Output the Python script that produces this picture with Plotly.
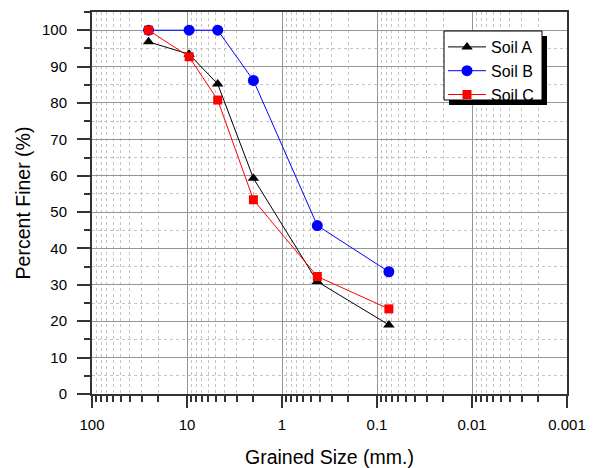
import plotly.graph_objects as go

sizes = [25.4, 9.5, 4.75, 2.0, 0.425, 0.075]
soil_a = [96.8, 93.4, 85.2, 59.3, 30.9, 19.0]
soil_b = [100.0, 100.0, 100.0, 86.2, 46.3, 33.6]
soil_c = [100.0, 92.7, 80.8, 53.4, 32.3, 23.4]

x_tickvals = [100, 10, 1, 0.1, 0.01, 0.001]
x_ticktext = ["100", "10", "1", "0.1", "0.01", "0.001"]
y_tickvals = list(range(0, 101, 10))

FONT = "Arial, Liberation Sans, sans-serif"
W, H = 594, 468
ML, MR, MT, MB = 92, 27, 12, 74

fig = go.Figure()
fig.add_trace(go.Scatter(x=sizes, y=soil_a, name="Soil A", mode="lines+markers",
                         line=dict(color="black", width=1),
                         marker=dict(symbol="triangle-up", size=10, color="black")))
fig.add_trace(go.Scatter(x=sizes, y=soil_b, name="Soil B", mode="lines+markers",
                         line=dict(color="blue", width=1),
                         marker=dict(symbol="circle", size=11, color="blue")))
fig.add_trace(go.Scatter(x=sizes, y=soil_c, name="Soil C", mode="lines+markers",
                         line=dict(color="red", width=1),
                         marker=dict(symbol="square", size=9, color="red")))

pw = W - ML - MR
ph = H - MT - MB
def px2paper(x, y):
    return (x - ML) / pw, (H - MB - y) / ph

def prect(x0p, y0p, x1p, y1p, fill, lw):
    a, b = px2paper(x0p, y1p)
    c, d = px2paper(x1p, y0p)
    return dict(type="rect", xref="paper", yref="paper", x0=a, x1=c, y0=b, y1=d,
                fillcolor=fill, line=dict(color="#000000", width=lw), layer="above")

# legend frame: black drop shadow, then white box with a thin black border
fig.update_layout(shapes=[
    prect(449, 36, 547, 105, "#000000", 0),
    prect(444, 31, 542, 100, "#ffffff", 1),
])

lx, ly = px2paper(443, 30)
fig.update_layout(
    width=W, height=H,
    margin=dict(l=ML, r=MR, t=MT, b=MB, autoexpand=False),
    paper_bgcolor="white", plot_bgcolor="white",
    font=dict(family=FONT, size=15, color="black"),
    showlegend=True,
    legend=dict(x=lx, y=ly, xanchor="left", yanchor="top",
                bgcolor="rgba(255,255,255,0)", borderwidth=0,
                font=dict(size=16, family=FONT), tracegroupgap=0,
                itemwidth=38),
    xaxis=dict(type="log", range=[2, -3], tickvals=x_tickvals, ticktext=x_ticktext,
               automargin=False,
               showline=True, linecolor="#333", linewidth=2, mirror=True,
               ticks="outside", ticklen=12, tickwidth=1.5, tickcolor="#333",
               showgrid=True, gridcolor="#959595", gridwidth=1,
               minor=dict(dtick="D1", ticks="outside", ticklen=6, tickcolor="#333",
                          showgrid=True, gridcolor="#c4c4c4", griddash="dot", gridwidth=1),
               title=dict(text="Grained Size (mm.)", font=dict(size=19.5), standoff=18),
               tickfont=dict(size=15), ticklabelstandoff=4, zeroline=False),
    yaxis=dict(range=[0, 105], tickvals=y_tickvals, automargin=False,
               showline=True, linecolor="#333", linewidth=2, mirror=True,
               ticks="outside", ticklen=13, tickwidth=1.5, tickcolor="#333",
               showgrid=True, gridcolor="#959595", gridwidth=1,
               minor=dict(dtick=5, ticks="outside", ticklen=6, tickcolor="#333",
                          showgrid=True, gridcolor="#c4c4c4", griddash="dot", gridwidth=1),
               title=dict(text="Percent Finer (%)", font=dict(size=19.5), standoff=6),
               tickfont=dict(size=15), ticklabelstandoff=7, zeroline=False),
)

fig.write_html("out.html")
